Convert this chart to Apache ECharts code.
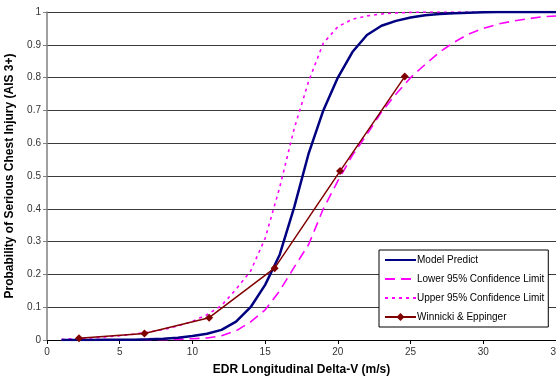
<!DOCTYPE html>
<html>
<head>
<meta charset="utf-8">
<script src="https://cdn.jsdelivr.net/npm/echarts@6/dist/echarts.min.js"></script>
<style>
  html, body { margin: 0; padding: 0; background: #fff; }
  #main { width: 556px; height: 379px; }
</style>
</head>
<body>
<div id="main"></div>
<script>
// delta-V grid (m/s) used by the model curves
var deltaV = [1, 2, 3, 4, 5, 6, 7, 8, 9, 10, 11, 12, 13, 14, 15, 16, 17, 18,
  19, 20, 21, 22, 23, 24, 25, 26, 27, 28, 29, 30, 31, 32, 33, 34, 35];

// model predict
var modelPredict = [0, 0, 0, 0.001, 0.001, 0.001, 0.002, 0.004, 0.007, 0.012,
  0.019, 0.031, 0.056, 0.1, 0.168, 0.26, 0.405, 0.57, 0.7, 0.8, 0.878, 0.93,
  0.958, 0.973, 0.983, 0.99, 0.994, 0.996, 0.998, 0.999, 1, 1, 1, 1, 1];

// lower 95% confidence limit
var lowerCL = [0, 0, 0, 0, 0.0005, 0.0005, 0.001, 0.001, 0.002, 0.004, 0.006,
  0.013, 0.028, 0.055, 0.092, 0.15, 0.222, 0.292, 0.4, 0.485, 0.563, 0.627,
  0.695, 0.75, 0.8, 0.84, 0.878, 0.908, 0.933, 0.95, 0.963, 0.972, 0.979,
  0.985, 0.988];

// upper 95% confidence limit
var upperCL = [0.002, 0.004, 0.006, 0.009, 0.013, 0.018, 0.024, 0.032, 0.043,
  0.057, 0.077, 0.105, 0.155, 0.21, 0.31, 0.465, 0.645, 0.79, 0.905, 0.955,
  0.978, 0.988, 0.994, 0.997, 0.999, 1, 1, 1, 1, 1, 1, 1, 1, 1, 1];

// Winnicki & Eppinger points
var weDeltaV = [2.2, 6.7, 11.15, 15.65, 20.15, 24.6];
var weProb = [0.005, 0.02, 0.068, 0.219, 0.515, 0.803];

function pairs(xs, ys) {
  var out = [];
  for (var i = 0; i < xs.length; i++) out.push([xs[i], ys[i]]);
  return out;
}

var myChart = echarts.init(document.getElementById("main"));
var font = "Liberation Sans, Arial, sans-serif";
// hide the round marker echarts puts on line legend icons
var noDot = { color: "rgba(0,0,0,0)", borderWidth: 0 };

var option = {
  animation: false,
  textStyle: { fontFamily: font },
  grid: { left: 47, right: 0, top: 12, bottom: 39, containLabel: false, outerBoundsMode: "none" },
  legend: {
    orient: "vertical",
    left: 379,
    top: 250,
    padding: [5, 4, 5, 5],
    itemGap: 9,
    itemWidth: 31,
    itemHeight: 10,
    borderColor: "#000",
    borderWidth: 1,
    backgroundColor: "#fff",
    textStyle: { color: "#000", fontSize: 10, fontFamily: font, padding: [0, 0, 0, -4] },
    data: [
      { name: "Model Predict", itemStyle: noDot },
      { name: "Lower 95% Confidence Limit", itemStyle: noDot },
      { name: "Upper 95% Confidence Limit", itemStyle: noDot },
      { name: "Winnicki & Eppinger" },
    ],
  },
  xAxis: {
    type: "value",
    min: 0,
    max: 35,
    interval: 5,
    name: "EDR Longitudinal Delta-V (m/s)",
    nameLocation: "middle",
    nameGap: 24,
    nameTextStyle: { color: "#000", fontSize: 12, fontWeight: "bold", fontFamily: font },
    axisLine: { lineStyle: { color: "#000", width: 1 } },
    axisTick: { show: true, length: 4, lineStyle: { color: "#000" } },
    axisLabel: { color: "#333", fontSize: 10, margin: 7 },
    splitLine: { show: false },
  },
  yAxis: {
    type: "value",
    min: 0,
    max: 1,
    interval: 0.1,
    name: "Probability of Serious Chest Injury (AIS 3+)",
    nameLocation: "middle",
    nameGap: 31,
    nameTextStyle: { color: "#000", fontSize: 12, fontWeight: "bold", fontFamily: font, padding: [11, 0, 0, 0] },
    axisLine: { show: true, lineStyle: { color: "#808080", width: 1.5 } },
    axisTick: { show: true, length: 4, lineStyle: { color: "#808080" } },
    axisLabel: { color: "#333", fontSize: 10, margin: 6 },
    splitLine: { show: true, lineStyle: { color: "#3a3a3a", width: 1 } },
  },
  series: [
    {
      name: "Model Predict",
      type: "line",
      data: pairs(deltaV, modelPredict),
      symbol: "none",
      z: 4,
      color: "#000080",
      lineStyle: { color: "#000080", width: 2.5 },
    },
    {
      name: "Lower 95% Confidence Limit",
      type: "line",
      data: pairs(deltaV, lowerCL),
      symbol: "none",
      z: 3,
      color: "#ff00ff",
      lineStyle: { color: "#ff00ff", width: 1.6, type: [10, 6] },
    },
    {
      name: "Upper 95% Confidence Limit",
      type: "line",
      data: pairs(deltaV, upperCL),
      symbol: "none",
      z: 3,
      color: "#ff00ff",
      lineStyle: { color: "#ff00ff", width: 1.6, type: [3, 4] },
    },
    {
      name: "Winnicki & Eppinger",
      type: "line",
      data: pairs(weDeltaV, weProb),
      symbol: "diamond",
      symbolSize: 8,
      z: 5,
      color: "#800000",
      itemStyle: { color: "#800000" },
      lineStyle: { color: "#800000", width: 1.5 },
    },
  ],
};

myChart.setOption(option);
</script>
</body>
</html>
